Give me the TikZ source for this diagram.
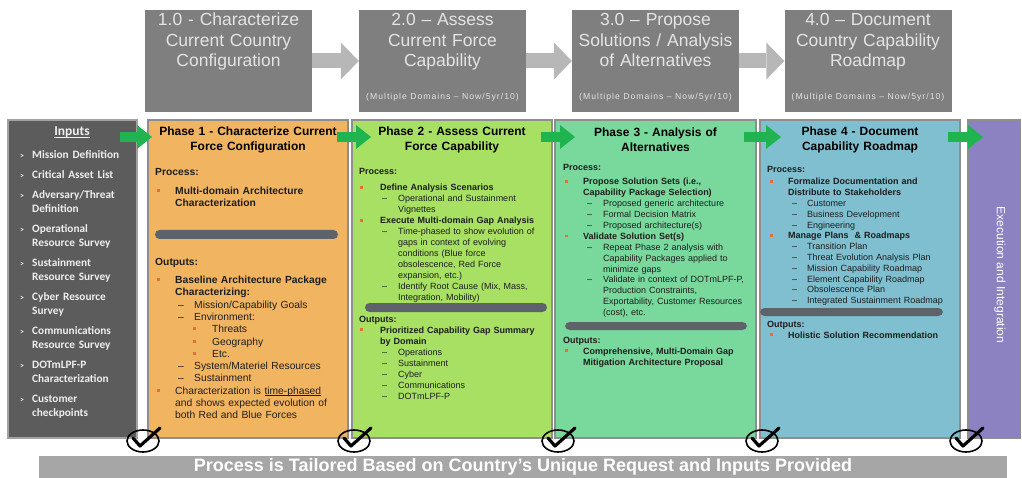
\documentclass[tikz,border=0pt]{standalone}
\usepackage{fontspec}
\setmainfont{Liberation Sans}
\newfontfamily\inputsfont{Carlito}
\usetikzlibrary{arrows.meta}

\definecolor{topgray}{HTML}{7F7F7F}
\definecolor{toptext}{HTML}{E4E4E4}
\definecolor{toparrow}{HTML}{B7B7B7}
\definecolor{inpfill}{HTML}{5C5C5C}
\definecolor{inpline}{HTML}{A2A2A2}
\definecolor{inptext}{HTML}{EEEEEE}
\definecolor{phA}{HTML}{F1B562}
\definecolor{phB}{HTML}{A8E064}
\definecolor{phC}{HTML}{79D89C}
\definecolor{phD}{HTML}{7FBFD0}
\definecolor{execcol}{HTML}{8C82C2}
\definecolor{boxline}{HTML}{8E8E8E}
\definecolor{barcol}{HTML}{5E636B}
\definecolor{bulcol}{HTML}{E2703A}
\definecolor{greenarrow}{HTML}{1FB450}
\definecolor{banner}{HTML}{A6A6A6}
\definecolor{bodytext}{HTML}{1E1E1E}

% small square bullet and one list entry: text indent, bullet distance, bullet, text
\newcommand\sqb{\textcolor{bulcol}{\rule[0.22em]{0.3em}{0.3em}}}
\newcommand\itm[4]{\leftskip=#1\relax\noindent\llap{\makebox[#2][l]{#3}}#4\par}
\newcommand\initem[1]{\itm{12pt}{12pt}{\fontsize{8}{8}\selectfont\textgreater}{#1}\vspace{6pt}}
% simple underline drawn as a rule below the word
\newcommand\ulword[1]{\setbox0\hbox{#1}\rlap{\rule[-1.6pt]{\wd0}{0.5pt}}\box0}

\tikzset{
  topbox/.style={fill=topgray, inner sep=0pt, minimum width=167, minimum height=102},
  toptitle/.style={text width=165, align=center, anchor=base, inner sep=0pt, text=toptext,
    font=\fontsize{17.5}{20.5}\selectfont},
  topsub/.style={anchor=base, inner sep=0pt, text=toptext,
    font=\fontsize{8.6}{10}\selectfont\addfontfeature{LetterSpace=12}},
  toparr/.style={draw=toparrow, line width=15pt, -{Triangle[width=37pt,length=18pt,line width=0pt]}},
  greenarr/.style={draw=greenarrow, line width=10pt, -{Triangle[width=24pt,length=15pt,line width=0pt]}},
  colbox/.style={draw=boxline, line width=1.2pt, inner sep=0pt, minimum height=318},
  phtitle/.style={text width=200, align=center, anchor=base, inner sep=0pt, text=black,
    font=\bfseries\fontsize{12}{14.6}\selectfont},
  bodyA/.style={text width=195, anchor=base west, inner sep=0pt, text=bodytext,
    font=\fontsize{10.3}{12.3}\selectfont},
  bodyB/.style={text width=193, anchor=base west, inner sep=0pt, text=bodytext,
    font=\fontsize{9}{#1}\selectfont},
  bar/.style={fill=barcol, rounded corners=4.5pt},
  inputs/.style={text width=115, anchor=base west, inner sep=0pt, text=inptext,
    font=\inputsfont\bfseries\fontsize{11.3}{14}\selectfont},
}

\begin{document}
\begin{tikzpicture}[x=1pt,y=-1pt]
\useasboundingbox (0,0) rectangle (1022,478);

% ---------- top-level steps ----------
\node[topbox] (t1) at (228.5,61) {};
\node[topbox] (t2) at (442.5,61) {};
\node[topbox] (t3) at (655.5,61) {};
\node[topbox] (t4) at (868,61) {};
\node[toptitle] (t1a) at (228.5,26) {1.0 - Characterize\\Current Country\\Configuration};
\node[toptitle] (t2a) at (442.5,26) {2.0 -- Assess\\Current Force\\Capability};
\node[toptitle] (t3a) at (655.5,26) {3.0 -- Propose\\Solutions / Analysis\\of Alternatives};
\node[toptitle] (t4a) at (868,26) {4.0 -- Document\\Country Capability\\Roadmap};
\node[topsub] (t2b) at (442.5,99.5) {(Multiple Domains -- Now/5yr/10)};
\node[topsub] (t3b) at (655.5,99.5) {(Multiple Domains -- Now/5yr/10)};
\node[topsub] (t4b) at (868,99.5) {(Multiple Domains -- Now/5yr/10)};
\draw[toparr] (t1.east) -- (t2.west);
\draw[toparr] (t2.east) -- (t3.west);
\draw[toparr] (t3.east) -- (t4.west);

% ---------- columns ----------
\node[colbox, draw=inpline, fill=inpfill, minimum width=129] (inp) at (72.5,279) {};
\node[colbox, fill=phA, minimum width=200] (p1) at (248,279) {};
\node[colbox, fill=phB, minimum width=200] (p2) at (452,279) {};
\node[colbox, fill=phC, minimum width=201] (p3) at (655.5,279) {};
\node[colbox, fill=phD, minimum width=200] (p4) at (860,279) {};
\node[colbox, fill=execcol, minimum width=52] (ex) at (994,279) {};

% ---------- inputs ----------
\node[anchor=base, inner sep=0pt, text=inptext, font=\inputsfont\bfseries\fontsize{13.5}{14}\selectfont]
  (inpt) at (72,136) {\ulword{Inputs}};
\node[inputs] (inpl) at (20,159) {%
  \initem{Mission Definition}%
  \initem{Critical Asset List}%
  \initem{Adversary/Threat\\Definition}%
  \initem{Operational\\Resource Survey}%
  \initem{Sustainment\\Resource Survey}%
  \initem{Cyber Resource\\Survey}%
  \initem{Communications\\Resource Survey}%
  \initem{DOTmLPF-P\\Characterization}%
  \initem{Customer\\checkpoints}};

% ---------- phase 1 ----------
\node[phtitle] (p1t) at (248,136) {Phase 1 - Characterize Current\\Force Configuration};
\node[bodyA] (p1p) at (155,175.5) {%
  \itm{0pt}{0pt}{}{\textbf{Process:}}\vspace{6.7pt}%
  \itm{20pt}{18pt}{\sqb}{\textbf{Multi-domain Architecture\\Characterization}}};
\fill[bar] (155,230) rectangle (338,239);
\node[bodyA] (p1o) at (155,265.5) {%
  \itm{0pt}{0pt}{}{\textbf{Outputs:}}\vspace{5.7pt}%
  \itm{20pt}{18pt}{\sqb}{\textbf{Baseline Architecture Package\\Characterizing:}}%
  \itm{39pt}{16pt}{\textendash}{Mission/Capability Goals}%
  \itm{39pt}{16pt}{\textendash}{Environment:}%
  \itm{57pt}{19pt}{\sqb}{Threats}%
  \itm{57pt}{19pt}{\sqb}{Geography}%
  \itm{57pt}{19pt}{\sqb}{Etc.}%
  \itm{39pt}{16pt}{\textendash}{System/Materiel Resources}%
  \itm{39pt}{16pt}{\textendash}{Sustainment}%
  \itm{20pt}{18pt}{\sqb}{Characterization is \ulword{time-phased}\\and shows expected evolution of\\both Red and Blue Forces}};

% ---------- phase 2 ----------
\node[phtitle] (p2t) at (452,136) {Phase 2 - Assess Current\\Force Capability};
\node[bodyB=11] (p2p) at (359,175) {%
  \itm{0pt}{0pt}{}{\textbf{Process:}}\vspace{5pt}%
  \itm{21pt}{20pt}{\sqb}{\textbf{Define Analysis Scenarios}}%
  \itm{39pt}{16pt}{\textendash}{Operational and Sustainment\\Vignettes}%
  \itm{21pt}{20pt}{\sqb}{\textbf{Execute Multi-domain Gap Analysis}}%
  \itm{39pt}{16pt}{\textendash}{Time-phased to show evolution of\\gaps in context of evolving\\conditions (Blue force\\obsolescence, Red Force\\expansion, etc.)}%
  \itm{39pt}{16pt}{\textendash}{Identify Root Cause (Mix, Mass,\\Integration, Mobility)}};
\fill[bar] (365,303) rectangle (547,312);
\node[bodyB=11] (p2o) at (359,322) {%
  \itm{0pt}{0pt}{}{\textbf{Outputs:}}%
  \itm{21pt}{20pt}{\sqb}{\textbf{Prioritized Capability Gap Summary\\by Domain}}%
  \itm{39pt}{16pt}{\textendash}{Operations}%
  \itm{39pt}{16pt}{\textendash}{Sustainment}%
  \itm{39pt}{16pt}{\textendash}{Cyber}%
  \itm{39pt}{16pt}{\textendash}{Communications}%
  \itm{39pt}{16pt}{\textendash}{DOTmLPF-P}};

% ---------- phase 3 ----------
\node[phtitle] (p3t) at (655.5,137) {Phase 3 - Analysis of\\Alternatives};
\node[bodyB=10.9] (p3p) at (563,171) {%
  \itm{0pt}{0pt}{}{\textbf{Process:}}\vspace{3pt}%
  \itm{20pt}{18pt}{\sqb}{\textbf{Propose Solution Sets (i.e.,\\Capability Package Selection)}}%
  \itm{40pt}{16pt}{\textendash}{Proposed generic architecture}%
  \itm{40pt}{16pt}{\textendash}{Formal Decision Matrix}%
  \itm{40pt}{16pt}{\textendash}{Proposed architecture(s)}%
  \itm{20pt}{18pt}{\sqb}{\textbf{Validate Solution Set(s)}}%
  \itm{40pt}{16pt}{\textendash}{Repeat Phase 2 analysis with\\Capability Packages applied to\\minimize gaps}%
  \itm{40pt}{16pt}{\textendash}{Validate in context of DOTmLPF-P,\\Production Constraints,\\Exportability, Customer Resources\\(cost), etc.}};
\fill[bar] (565,322) rectangle (747,330);
\node[bodyB=11] (p3o) at (563,343) {%
  \itm{0pt}{0pt}{}{\textbf{Outputs:}}%
  \itm{20pt}{18pt}{\sqb}{\textbf{Comprehensive, Multi-Domain Gap\\Mitigation Architecture Proposal}}};

% ---------- phase 4 ----------
\node[phtitle] (p4t) at (860,136) {Phase 4 - Document\\Capability Roadmap};
\node[bodyB=10.8] (p4p) at (767,173) {%
  \itm{0pt}{0pt}{}{\textbf{Process:}}\vspace{1.2pt}%
  \itm{21pt}{18pt}{\sqb}{\textbf{Formalize Documentation and\\Distribute to Stakeholders}}%
  \itm{40pt}{15pt}{\textendash}{Customer}%
  \itm{40pt}{15pt}{\textendash}{Business Development}%
  \itm{40pt}{15pt}{\textendash}{Engineering}%
  \itm{21pt}{18pt}{\sqb}{\textbf{Manage Plans\ \ \& Roadmaps}}%
  \itm{40pt}{15pt}{\textendash}{Transition Plan}%
  \itm{40pt}{15pt}{\textendash}{Threat Evolution Analysis Plan}%
  \itm{40pt}{15pt}{\textendash}{Mission Capability Roadmap}%
  \itm{40pt}{15pt}{\textendash}{Element Capability Roadmap}%
  \itm{40pt}{15pt}{\textendash}{Obsolescence Plan}%
  \itm{40pt}{15pt}{\textendash}{Integrated Sustainment Roadmap}};
\fill[bar] (760,308) rectangle (943,316);
\node[bodyB=11] (p4o) at (767,327) {%
  \itm{0pt}{0pt}{}{\textbf{Outputs:}}%
  \itm{21pt}{18pt}{\sqb}{\textbf{Holistic Solution Recommendation}}};

% ---------- execution ----------
\node[rotate=-90, inner sep=0pt, text=white, font=\fontsize{12}{12}\selectfont] (ext) at (1000,275)
  {Execution and Integration};

% ---------- green hand-over arrows ----------
\coordinate (g0) at (120,137);  \coordinate (g1) at (152,137);
\coordinate (h0) at (337,137);  \coordinate (h1) at (371,137);
\coordinate (k0) at (541,137);  \coordinate (k1) at (575,137);
\coordinate (m0) at (744,137);  \coordinate (m1) at (781,137);
\coordinate (n0) at (948,137);  \coordinate (n1) at (983,137);
\draw[greenarr] (g0) -- (g1);
\draw[greenarr] (h0) -- (h1);
\draw[greenarr] (k0) -- (k1);
\draw[greenarr] (m0) -- (m1);
\draw[greenarr] (n0) -- (n1);

% ---------- checkpoints ----------
\foreach \cx in {143,354,558,762,966} {
  \draw[line width=1.6pt] (\cx,441) ellipse [x radius=16, y radius=11];
  \draw[line width=3.2pt, line cap=round, line join=round] (\cx-10,438) -- (\cx-3,446) -- (\cx+17,428);
}

% ---------- banner ----------
\node[fill=banner, minimum width=968, minimum height=22, inner sep=0pt, text=white,
  font=\bfseries\fontsize{18}{18}\selectfont] (ban) at (523,467)
  {Process is Tailored Based on Country's Unique Request and Inputs Provided};
\end{tikzpicture}
\end{document}
